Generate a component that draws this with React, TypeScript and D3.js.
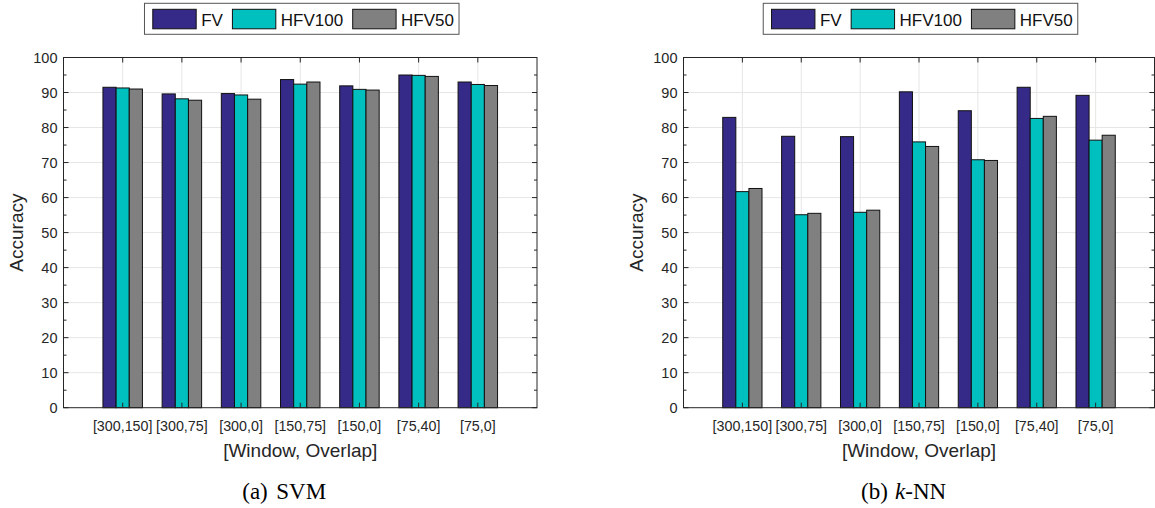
import React, { useEffect, useRef } from 'react';
import * as d3 from 'd3';

const categories = ['[300,150]', '[300,75]', '[300,0]', '[150,75]', '[150,0]', '[75,40]', '[75,0]'];
const seriesNames = ['FV', 'HFV100', 'HFV50'];
const seriesColors = ['#352a87', '#00bfbf', '#808080'];

// SVM accuracy
const svmFV = [91.5, 89.6, 89.7, 93.7, 91.9, 95.0, 93.0];
const svmHFV100 = [91.3, 88.2, 89.3, 92.4, 90.9, 94.9, 92.3];
const svmHFV50 = [91.0, 87.8, 88.1, 93.0, 90.7, 94.6, 92.0];

// k-NN accuracy
const knnFV = [82.9, 77.5, 77.4, 90.2, 84.8, 91.5, 89.2];
const knnHFV100 = [61.7, 55.1, 55.8, 75.9, 70.8, 82.6, 76.4];
const knnHFV50 = [62.6, 55.5, 56.4, 74.6, 70.6, 83.2, 77.8];

const yTicks = [0, 10, 20, 30, 40, 50, 60, 70, 80, 90, 100];

const W = 1155;
const H = 508;
const axisColor = '#262626';
const sans = '"Liberation Sans", Arial, Helvetica, sans-serif';
const serif = '"Liberation Serif", "Times New Roman", serif';

const drawPanel = (svg, left, right, series, captionTag, captionName, italicK) => {
  const top = 57.5;
  const bottom = 407.7;
  const x = d3.scaleLinear().domain([0, categories.length + 1]).range([left, right]);
  const y = d3.scaleLinear().domain([0, 100]).range([bottom, top]);
  const g = svg.append('g');

  // grid
  yTicks.slice(1, -1).forEach((t) => {
    g.append('line').attr('x1', left).attr('x2', right).attr('y1', y(t)).attr('y2', y(t))
      .attr('stroke', '#e6e6e6').attr('stroke-width', 1);
  });
  categories.forEach((c, i) => {
    g.append('line').attr('x1', x(i + 1)).attr('x2', x(i + 1)).attr('y1', top).attr('y2', bottom)
      .attr('stroke', '#e6e6e6').attr('stroke-width', 1);
  });

  // bars
  const groupW = 0.667;
  const barW = groupW / series.length;
  series.forEach((vals, j) => {
    g.selectAll(null).data(vals).enter().append('rect')
      .attr('x', (d, i) => x(i + 1 - groupW / 2 + j * barW))
      .attr('y', (d) => y(d))
      .attr('width', x(barW) - x(0))
      .attr('height', (d) => y(0) - y(d))
      .attr('fill', seriesColors[j])
      .attr('stroke', '#111')
      .attr('stroke-width', 1);
  });

  // box
  g.append('rect').attr('x', left).attr('y', top).attr('width', right - left).attr('height', bottom - top)
    .attr('fill', 'none').attr('stroke', axisColor).attr('stroke-width', 1);

  // y ticks (major + minor) on both sides
  d3.range(0, 101, 5).forEach((t) => {
    const len = t % 10 === 0 ? 5 : 3;
    g.append('line').attr('x1', left).attr('x2', left + len).attr('y1', y(t)).attr('y2', y(t))
      .attr('stroke', axisColor);
    g.append('line').attr('x1', right).attr('x2', right - len).attr('y1', y(t)).attr('y2', y(t))
      .attr('stroke', axisColor);
  });
  categories.forEach((c, i) => {
    g.append('line').attr('x1', x(i + 1)).attr('x2', x(i + 1)).attr('y1', top).attr('y2', top + 5)
      .attr('stroke', axisColor);
    g.append('line').attr('x1', x(i + 1)).attr('x2', x(i + 1)).attr('y1', bottom).attr('y2', bottom - 5)
      .attr('stroke', axisColor);
  });

  // tick labels
  g.selectAll(null).data(yTicks).enter().append('text')
    .attr('x', left - 6).attr('y', (d) => y(d) + 5)
    .attr('text-anchor', 'end').attr('font-family', sans).attr('font-size', 14.5)
    .attr('fill', axisColor).text((d) => d);
  g.selectAll(null).data(categories).enter().append('text')
    .attr('x', (d, i) => x(i + 1)).attr('y', 430.5)
    .attr('text-anchor', 'middle').attr('font-family', sans).attr('font-size', 14.3)
    .attr('fill', axisColor).text((d) => d);

  // axis labels
  g.append('text').attr('x', (left + right) / 2).attr('y', 456.5)
    .attr('text-anchor', 'middle').attr('font-family', sans).attr('font-size', 19)
    .attr('fill', axisColor).text('[Window, Overlap]');
  g.append('text').attr('transform', `translate(${left - 41},${(top + bottom) / 2}) rotate(-90)`)
    .attr('text-anchor', 'middle').attr('font-family', sans).attr('font-size', 19)
    .attr('fill', axisColor).text('Accuracy');

  // legend
  const lg = g.append('g');
  const box = lg.append('rect').attr('fill', '#fff').attr('stroke', '#555').attr('stroke-width', 1);
  let cx = 8.3;
  seriesNames.forEach((name, j) => {
    lg.append('rect').attr('x', cx).attr('y', 9.3).attr('width', 43.4).attr('height', 19.5)
      .attr('fill', seriesColors[j]).attr('stroke', '#111').attr('stroke-width', 1);
    const t = lg.append('text').attr('x', cx + 48.4).attr('y', 25.5)
      .attr('font-family', sans).attr('font-size', 17).attr('fill', '#111').text(name);
    const tw = t.node().getComputedTextLength();
    cx = cx + 48.4 + tw + (j < seriesNames.length - 1 ? 9.5 : 5);
  });
  box.attr('x', 0).attr('y', 3.3).attr('width', cx).attr('height', 31);
  lg.attr('transform', `translate(${(left + right) / 2 + 1.5 - cx / 2},0)`);

  // caption
  const mid = (left + right) / 2;
  g.append('text').attr('x', mid - 58).attr('y', 498.5)
    .attr('font-family', serif).attr('font-size', 23).attr('fill', '#000').text(captionTag);
  const nm = g.append('text').attr('x', mid - 24).attr('y', 498.5)
    .attr('font-family', serif).attr('font-size', 23).attr('fill', '#000');
  if (italicK) nm.append('tspan').attr('font-style', 'italic').text('k');
  nm.append('tspan').text(captionName);
};

export default function App() {
  const ref = useRef(null);

  useEffect(() => {
    const svg = d3.select(ref.current);
    svg.selectAll('*').remove();
    drawPanel(svg, 63.5, 537, [svmFV, svmHFV100, svmHFV50], '(a)', 'SVM', false);
    drawPanel(svg, 683.5, 1154.5, [knnFV, knnHFV100, knnHFV50], '(b)', '-NN', true);
  }, []);

  return (
    <svg ref={ref} width={W} height={H}
      style={{ position: 'absolute', left: 0, top: 0, background: '#fff' }} />
  );
}
